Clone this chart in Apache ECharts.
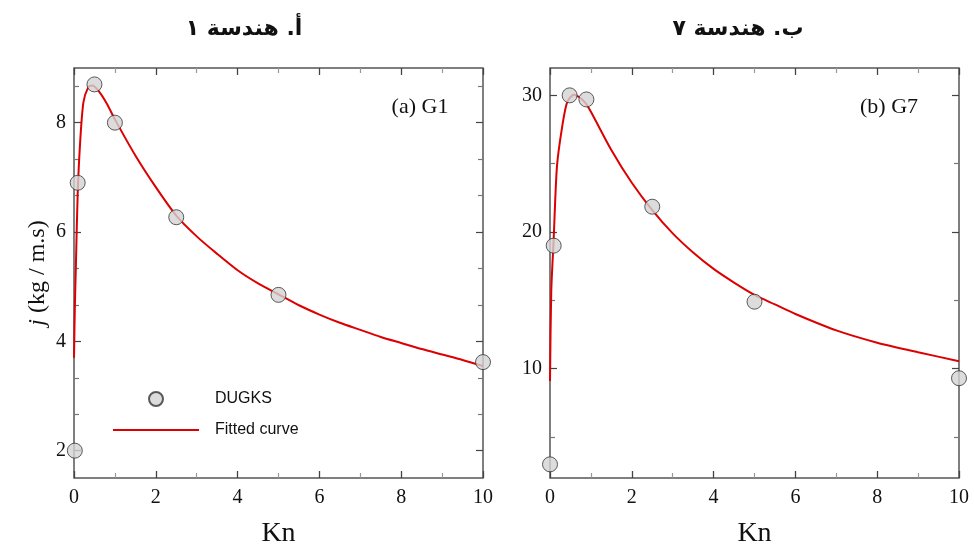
<!DOCTYPE html>
<html>
<head>
<meta charset="utf-8">
<script src="https://cdn.jsdelivr.net/npm/echarts@6/dist/echarts.min.js"></script>
<style>
html,body{margin:0;padding:0;background:#fff;}
#chart{width:974px;height:545px;}
</style>
</head>
<body>
<div id="chart"></div>
<script>
// ---- Data ----
const titles = ['أ. هندسة ١', 'ب. هندسة ٧'];
const panelLabels = ['(a) G1', '(b) G7'];
const seriesNames = ['DUGKS', 'Fitted curve'];

// Panel (a) G1
const knPts1 = [0.02, 0.09, 0.5, 1.0, 2.5, 5.0, 10.0];
const dugks1 = [2.0, 6.9, 8.7, 8.0, 6.27, 4.85, 3.62];
const knFit1 = [0, 0.02, 0.05, 0.09, 0.15, 0.23, 0.35, 0.45, 0.6, 0.8, 1.0, 1.5, 2.0, 2.5, 3.0, 3.5, 4.0, 4.5, 5.0, 5.5, 6.0, 6.5, 7.0, 7.5, 8.0, 8.5, 9.0, 9.5, 10.0];
const fit1   = [3.7, 4.6, 5.5, 6.7, 7.64, 8.37, 8.65, 8.68, 8.58, 8.35, 8.06, 7.4, 6.82, 6.3, 5.92, 5.6, 5.3, 5.06, 4.86, 4.66, 4.49, 4.34, 4.21, 4.08, 3.97, 3.86, 3.76, 3.66, 3.55];

// Panel (b) G7
const knPts2 = [0.0, 0.09, 0.48, 0.89, 2.5, 5.0, 10.0];
const dugks2 = [3.0, 19.0, 30.0, 29.7, 21.85, 14.9, 9.3];
const knFit2 = [0, 0.03, 0.09, 0.17, 0.3, 0.42, 0.58, 0.7, 0.86, 1.0, 1.5, 2.0, 2.5, 3.0, 3.5, 4.0, 4.5, 5.0, 5.5, 6.0, 7.0, 8.0, 9.0, 10.0];
const fit2   = [9.1, 15.6, 19.5, 24.8, 27.75, 29.5, 30.05, 29.9, 29.47, 28.8, 26.0, 23.6, 21.6, 19.9, 18.5, 17.3, 16.3, 15.4, 14.7, 14.0, 12.8, 11.9, 11.2, 10.55];

// Axis ticks
const xRange = [0, 10];
const xTickStep = 2;
const yRange1 = [1.5, 9];
const yMajor1 = [2, 4, 6, 8];
const yMinor1 = [2.667, 3.333, 4.667, 5.333, 6.667, 7.333, 8.667];
const yRange2 = [2, 32];
const yMajor2 = [10, 20, 30];
const yMinor2 = [5, 15, 25];

const xName = 'Kn';
const yName = '{i|j} (kg / m.s)';

// ---- Build chart ----
const SERIF = '"Liberation Serif", "Times New Roman", serif';
const SANS = '"Liberation Sans", Arial, sans-serif';
const AR = '"DejaVu Sans", sans-serif';
const frame = '#555';

function xAx(grid, pos, labels) {
  return {
    type: 'value', gridIndex: grid, position: pos,
    min: xRange[0], max: xRange[1], interval: xTickStep,
    axisLine: {show: false},
    splitLine: {show: false},
    axisTick: {show: true, inside: true, length: 7, lineStyle: {color: '#444', width: 1.3}},
    minorTick: {show: true, splitNumber: 2, length: 5, lineStyle: {color: '#999', width: 1.2}},
    axisLabel: {show: labels, margin: 10, color: '#111', fontFamily: SERIF, fontSize: 20},
    name: labels ? xName : '', nameLocation: 'middle', nameGap: 42,
    nameTextStyle: {fontFamily: SERIF, fontSize: 28, color: '#111'}
  };
}
function yAx(grid, pos, range, vals, major, labels, name) {
  return {
    type: 'value', gridIndex: grid, position: pos,
    min: range[0], max: range[1],
    axisLine: {show: false},
    splitLine: {show: false},
    axisTick: {show: true, inside: true, customValues: vals, length: major ? 7 : 5,
      lineStyle: {color: major ? '#444' : '#777', width: 1.2}},
    axisLabel: {show: labels, customValues: vals, margin: 8, color: '#111', fontFamily: SERIF, fontSize: 20},
    name: name || '', nameLocation: 'middle', nameGap: 24,
    nameTextStyle: {fontFamily: SERIF, fontSize: 24, color: '#111',
      rich: {i: {fontFamily: SERIF, fontSize: 24, fontStyle: 'italic', color: '#111'}}}
  };
}

const chart = echarts.init(document.getElementById('chart'), null, {renderer: 'canvas'});
const pointStyle = {color: '#d3d3d3', borderColor: '#333', borderWidth: 1};
const lineColor = '#dd0000';

const option = {
  animation: false,
  backgroundColor: '#fff',
  grid: [
    {left: 74, top: 68, width: 409, height: 410, outerBoundsMode: 'none', containLabel: false, show: true, borderColor: frame, borderWidth: 1.5, backgroundColor: 'transparent'},
    {left: 550, top: 68, width: 409, height: 410, outerBoundsMode: 'none', containLabel: false, show: true, borderColor: frame, borderWidth: 1.5, backgroundColor: 'transparent'}
  ],
  xAxis: [xAx(0, 'bottom', true), xAx(0, 'top', false), xAx(1, 'bottom', true), xAx(1, 'top', false)],
  yAxis: [
    yAx(0, 'left', yRange1, yMajor1, true, true, yName),
    yAx(0, 'left', yRange1, yMinor1, false, false),
    yAx(0, 'right', yRange1, yMajor1, true, false),
    yAx(0, 'right', yRange1, yMinor1, false, false),
    yAx(1, 'left', yRange2, yMajor2, true, true),
    yAx(1, 'left', yRange2, yMinor2, false, false),
    yAx(1, 'right', yRange2, yMajor2, true, false),
    yAx(1, 'right', yRange2, yMinor2, false, false)
  ],
  legend: {
    data: [
      {name: seriesNames[0]},
      {name: seriesNames[1], itemStyle: {opacity: 0}}
    ],
    orient: 'vertical', left: 112, top: 391, padding: 0,
    itemWidth: 86, itemHeight: 14, itemGap: 15,
    textStyle: {fontFamily: SANS, fontSize: 16, color: '#111', padding: [0, 0, 0, 11]}
  },
  graphic: [
    {type: 'text', x: 244, y: 29, style: {text: titles[0], fontFamily: AR, fontWeight: 'bold', fontSize: 22, fill: '#111', align: 'center', verticalAlign: 'middle'}},
    {type: 'text', x: 738, y: 29, style: {text: titles[1], fontFamily: AR, fontWeight: 'bold', fontSize: 22, fill: '#111', align: 'center', verticalAlign: 'middle'}},
    {type: 'text', x: 420, y: 107, style: {text: panelLabels[0], font: '22px ' + SERIF, fill: '#111', align: 'center', verticalAlign: 'middle'}},
    {type: 'text', x: 889, y: 107, style: {text: panelLabels[1], font: '22px ' + SERIF, fill: '#111', align: 'center', verticalAlign: 'middle'}}
  ],
  series: [
    {name: seriesNames[1], type: 'line', xAxisIndex: 0, yAxisIndex: 0, showSymbol: false, symbol: 'none', smooth: 0.25, z: 2,
      lineStyle: {color: lineColor, width: 2}, itemStyle: {color: lineColor},
      data: knFit1.map((x, i) => [x, fit1[i]])},
    {name: seriesNames[0], type: 'scatter', xAxisIndex: 0, yAxisIndex: 0, symbolSize: 15, z: 3,
      itemStyle: pointStyle, data: knPts1.map((x, i) => [x, dugks1[i]])},
    {name: seriesNames[1], type: 'line', xAxisIndex: 2, yAxisIndex: 4, showSymbol: false, symbol: 'none', smooth: 0.25, z: 2,
      lineStyle: {color: lineColor, width: 2}, itemStyle: {color: lineColor},
      data: knFit2.map((x, i) => [x, fit2[i]])},
    {name: seriesNames[0], type: 'scatter', xAxisIndex: 2, yAxisIndex: 4, symbolSize: 15, z: 3,
      itemStyle: pointStyle, data: knPts2.map((x, i) => [x, dugks2[i]])}
  ]
};
chart.setOption(option);
</script>
</body>
</html>
